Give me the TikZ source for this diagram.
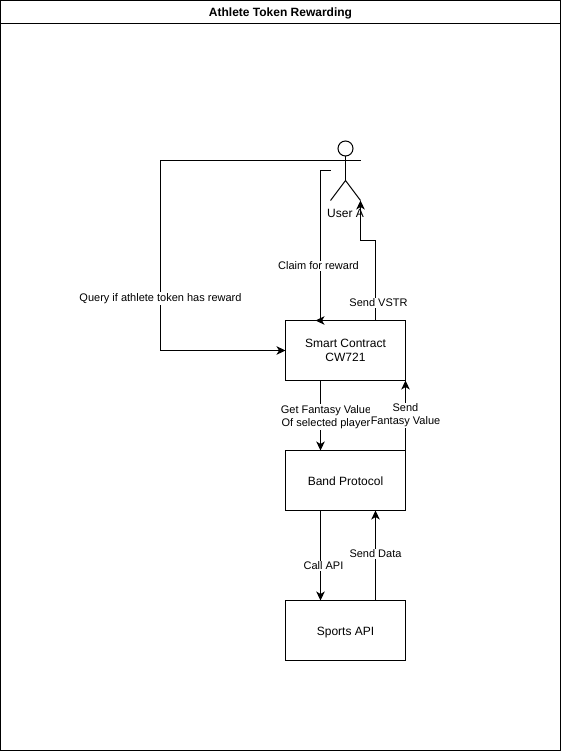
\documentclass[tikz,border=0pt]{standalone}
\usepackage{fontspec}
\setmainfont{Liberation Sans}
\usetikzlibrary{arrows.meta}
\tikzset{
  every node/.style={inner sep=0pt,outer sep=0pt},
  boxnode/.style={draw=black,line width=1pt,minimum width=120pt,minimum height=60pt,align=center,font=\fontsize{12}{14}\selectfont},
  oneline/.style={text height=9.5pt,text depth=0pt},
  link/.style={draw=black,line width=1pt,-{Stealth[length=9pt,width=8.5pt,inset=2.5pt]}},
  plain/.style={draw=black,line width=1pt},
  lab/.style={fill=white,align=center,font=\fontsize{11}{13}\selectfont,inner sep=1pt},
}
\begin{document}
\begin{tikzpicture}[x=1pt,y=-1pt]
\useasboundingbox (0,0) rectangle (561,751);
\node[draw=black,line width=1pt,minimum width=560pt,minimum height=750pt,anchor=north west] (frame) at (0.5,0.5) {};
\draw[plain] (0.5,23.5) coordinate (hl) -- (560.5,23.5) coordinate (hr);
\node[font=\bfseries\fontsize{12}{14}\selectfont] (title) at (280.5,13) {Athlete Token Rewarding};
\node[boxnode] (sc) at (345.5,350.5) {Smart Contract\\CW721};
\node[boxnode,oneline] (bp) at (345.5,480.5) {Band Protocol};
\node[boxnode,oneline] (api) at (345.5,630.5) {Sports API};
% actor
\node[draw=black,line width=1pt,circle,minimum size=15pt] (head) at (345.5,148.5) {};
\coordinate (hip) at (345.5,180.5);
\coordinate (armL) at (330.5,160.5);
\coordinate (armR) at (360.5,160.5);
\coordinate (legL) at (330.5,200.5);
\coordinate (legR) at (360.5,200.5);
\draw[plain] (head.south) -- (hip);
\draw[plain] (armL) -- (armR);
\draw[plain] (legL) -- (hip) -- (legR);
\node[font=\fontsize{12}{14}\selectfont] (user) at (345.5,213.5) {User A};
% connectors
\coordinate (claimS) at (330.5,170.5);
\draw[link] (armR) -- (160.5,160.5) -- (160.5,350.5) -- (sc.west);
\draw[link] (claimS) -- (320.5,170.5) -- (320.5,320.5) -- ([xshift=-30pt]sc.north);
\draw[link] ([xshift=30pt]sc.north) -- (375.5,240.5) -- (360.5,240.5) -- (legR);
\draw[link] ([xshift=-25pt]sc.south) -- ([xshift=-25pt]bp.north);
\draw[link] (bp.north east) -- (sc.south east);
\draw[link] ([xshift=-25pt]bp.south) -- ([xshift=-25pt]api.north);
\draw[link] ([xshift=30pt]api.north) -- ([xshift=30pt]bp.south);
% labels
\node[lab] (l1) at (160.5,298.5) {Query if athlete token has reward};
\node[lab] (l2) at (318.5,266) {Claim for reward};
\node[lab] (l3) at (378.5,303) {Send VSTR};
\node[lab] (l4) at (326,417) {Get Fantasy Value\\Of selected player};
\node[lab] (l5) at (405.5,415.5) {Send\\Fantasy Value};
\node[lab] (l6) at (323.5,566) {Call API};
\node[lab] (l7) at (375.5,554) {Send Data};
\end{tikzpicture}
\end{document}
